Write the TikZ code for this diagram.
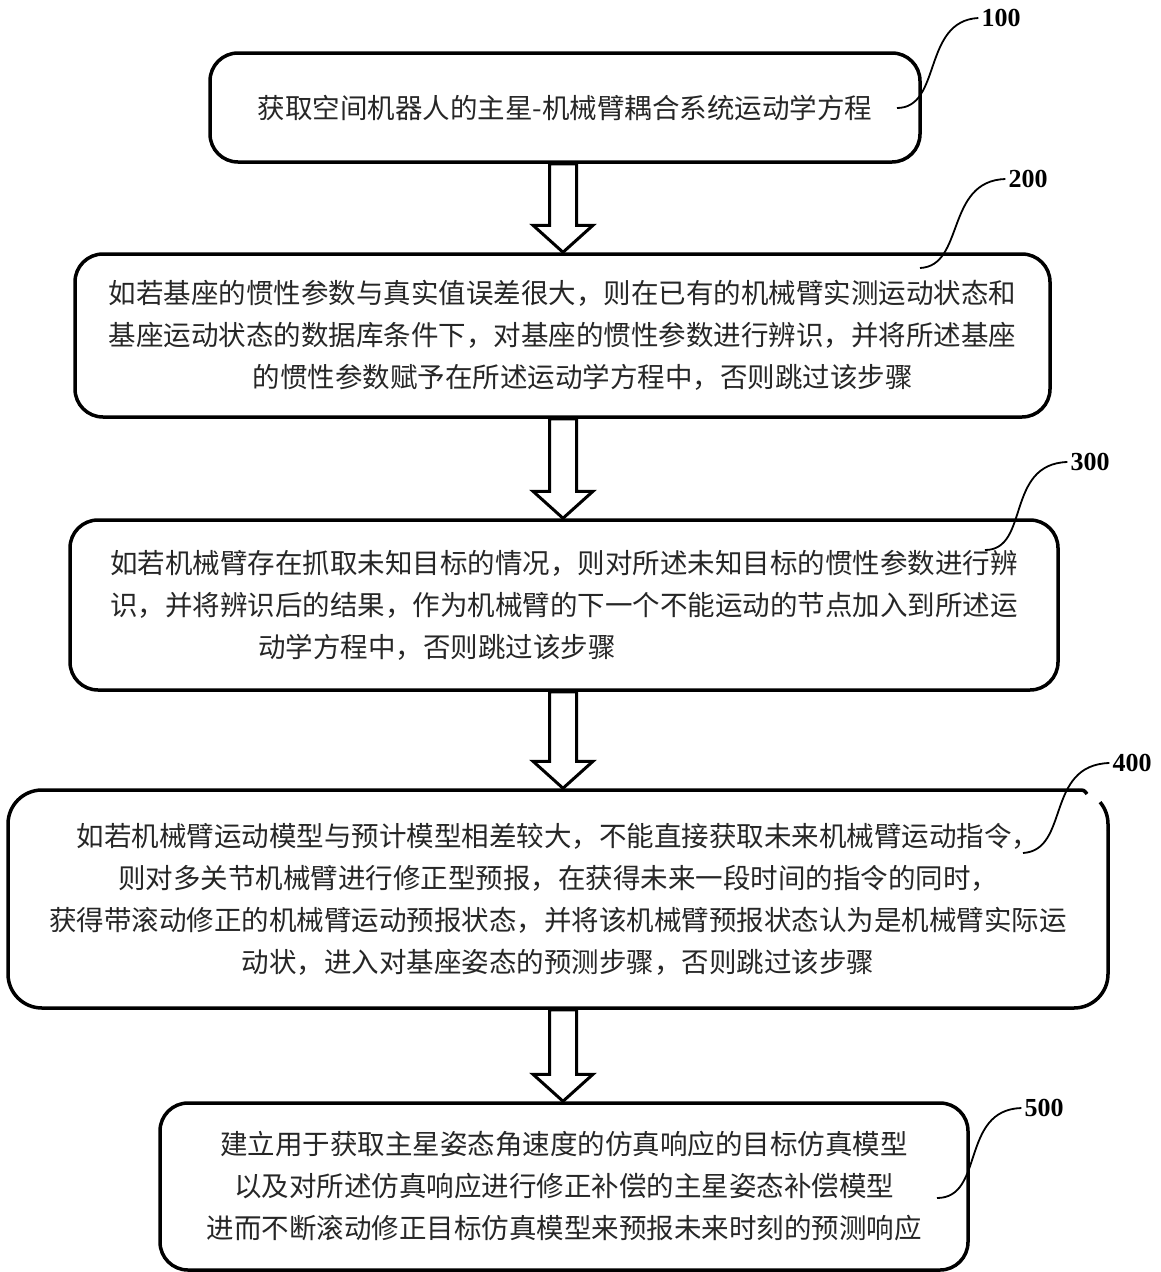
\documentclass[tikz,border=0pt]{standalone}
\usepackage{fontspec}
\setmainfont{Liberation Serif}
\newfontfamily\cjk{Noto Sans CJK SC}
\usetikzlibrary{calc}
\tikzset{
  box/.style={draw=black, line width=3.5pt, rounded corners=28pt, inner sep=0pt,
    align=center, font=\cjk\fontsize{27.5}{42}\selectfont, text=black!85},
  blockarrow/.style={draw=black, line width=3pt, fill=white, line join=miter},
  leader/.style={draw=black, line width=1.8pt},
  tag/.style={font=\bfseries\fontsize{26}{26}\selectfont, inner sep=3pt},
  outline/.style={draw=black, line width=3.5pt},
}
\newcommand\blockarr[2]{%
  \draw[blockarrow] let \p1=(#1.south -| axis), \p2=(#2.north -| axis) in
    (\x1-13.5pt,\y1) -- (\x1-13.5pt,\y2+27pt) -- (\x1-30pt,\y2+27pt) -- (\x1,\y2)
    -- (\x1+30pt,\y2+27pt) -- (\x1+13.5pt,\y2+27pt) -- (\x1+13.5pt,\y1) -- cycle;}
\begin{document}
\begin{tikzpicture}[x=1pt,y=-1pt]
\useasboundingbox (0,0) rectangle (1161,1272);
\coordinate (axis) at (563,0);

\node[box, minimum width=710pt, minimum height=109pt] (b1) at (565,107.5)
  {获取空间机器人的主星-机械臂耦合系统运动学方程};
\node[box, minimum width=975pt, minimum height=163pt] (b2) at (562.5,335.5)
  {如若基座的惯性参数与真实值误差很大，则在已有的机械臂实测运动状态和\\
   基座运动状态的数据库条件下，对基座的惯性参数进行辨识，并将所述基座\\
   \hspace*{40pt}的惯性参数赋予在所述运动学方程中，否则跳过该步骤};
\node[box, minimum width=988pt, minimum height=170pt] (b3) at (564,605)
  {如若机械臂存在抓取未知目标的情况，则对所述未知目标的惯性参数进行辨\\
   识，并将辨识后的结果，作为机械臂的下一个不能运动的节点加入到所述运\\
   动学方程中，否则跳过该步骤\hspace*{254pt}};
\node[box, draw=none, minimum width=1100pt, minimum height=218pt] (b4) at (558,899)
  {如若机械臂运动模型与预计模型相差较大，不能直接获取未来机械臂运动指令，\\
   则对多关节机械臂进行修正型预报，在获得未来一段时间的指令的同时，\\
   获得带滚动修正的机械臂运动预报状态，并将该机械臂预报状态认为是机械臂实际运\\
   动状，进入对基座姿态的预测步骤，否则跳过该步骤};
\node[box, minimum width=808pt, minimum height=167pt] (b5) at (564,1186.5)
  {建立用于获取主星姿态角速度的仿真响应的目标仿真模型\\
   以及对所述仿真响应进行修正补偿的主星姿态补偿模型\\
   进而不断滚动修正目标仿真模型来预报未来时刻的预测响应};

% outline of box 400 (open at its upper right corner)
\draw[outline] (1087,794) .. controls (1084,790) .. (1078,790);
\draw[outline, rounded corners=34pt] (1078,790) -- (8,790) -- (8,1008) -- (1108,1008) -- (1108,830);
\draw[outline] (1108,830) -- (1108,824) arc[start angle=0, end angle=-40, radius=34];

% block arrows
\blockarr{b1}{b2}
\blockarr{b2}{b3}
\blockarr{b3}{b4}
\blockarr{b4}{b5}

% reference numerals with leader curves
\node[tag] (t1) at (1001,18) {100};
\node[tag] (t2) at (1028,179) {200};
\node[tag] (t3) at (1090,462) {300};
\node[tag] (t4) at (1132,763) {400};
\node[tag] (t5) at (1044,1108) {500};
\coordinate (s1) at (897,108);
\coordinate (s2) at (920,268);
\coordinate (s3) at (985,550);
\coordinate (s4) at (1023,853);
\coordinate (s5) at (937,1198);
\draw[leader] (s1) .. controls (942,108) and (922,21) .. (t1.west);
\draw[leader] (s2) .. controls (965,266) and (945,181) .. (t2.west);
\draw[leader] (s3) .. controls (1030,550) and (1005,464) .. (t3.west);
\draw[leader] (s4) .. controls (1070,850) and (1045,765) .. (t4.west);
\draw[leader] (s5) .. controls (985,1198) and (960,1110) .. (t5.west);
\end{tikzpicture}
\end{document}
